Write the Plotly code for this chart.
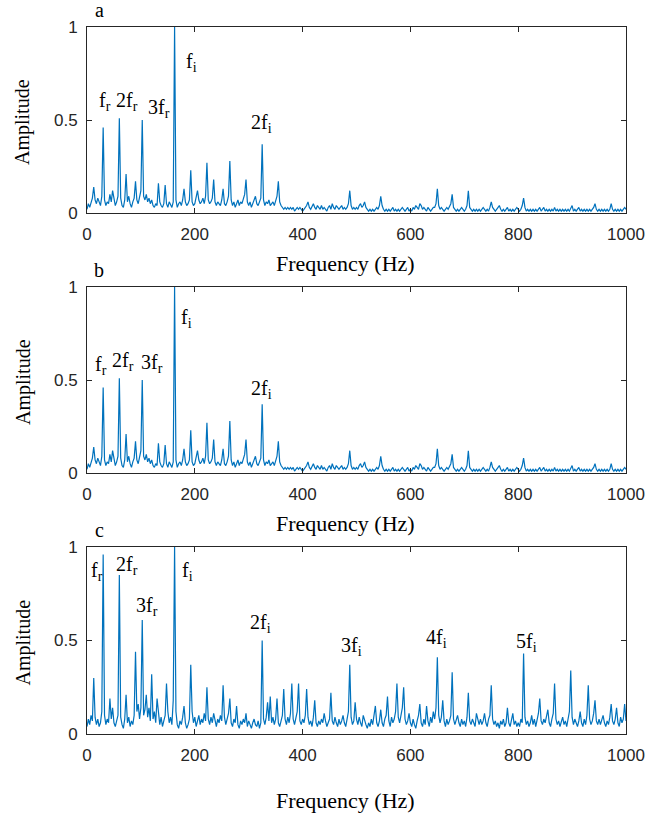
import plotly.graph_objects as go

# Frequency bins (Hz), 2.5 Hz resolution from 0 to 1000 Hz
freq = [2.5 * i for i in range(401)]

# Normalised amplitude spectrum, panels a and b (one row = 50 Hz)
amp_a = [
    0.02, 0.05, 0.03, 0.06, 0.08, 0.14, 0.07, 0.05, 0.08, 0.06, 0.04, 0.09, 0.46, 0.07, 0.04, 0.06, 0.05, 0.10, 0.06, 0.12,
    0.07, 0.04, 0.06, 0.09, 0.51, 0.08, 0.04, 0.03, 0.07, 0.21, 0.06, 0.09, 0.05, 0.03, 0.06, 0.08, 0.17, 0.07, 0.05, 0.08,
    0.12, 0.50, 0.09, 0.07, 0.10, 0.06, 0.08, 0.05, 0.07, 0.04, 0.03, 0.05, 0.04, 0.16, 0.06, 0.04, 0.03, 0.05, 0.15, 0.05,
    0.03, 0.06, 0.04, 0.03, 0.06, 1.00, 0.07, 0.03, 0.05, 0.06, 0.04, 0.07, 0.13, 0.06, 0.04, 0.05, 0.07, 0.23, 0.06, 0.04,
    0.05, 0.08, 0.12, 0.07, 0.05, 0.06, 0.08, 0.05, 0.09, 0.27, 0.07, 0.05, 0.06, 0.08, 0.18, 0.06, 0.04, 0.06, 0.05, 0.04,
    0.07, 0.13, 0.05, 0.04, 0.06, 0.09, 0.28, 0.07, 0.04, 0.06, 0.03, 0.05, 0.07, 0.04, 0.06, 0.05, 0.07, 0.10, 0.18, 0.06,
    0.04, 0.06, 0.03, 0.05, 0.07, 0.09, 0.05, 0.04, 0.06, 0.08, 0.37, 0.07, 0.04, 0.06, 0.05, 0.07, 0.04, 0.05, 0.06, 0.04,
    0.06, 0.09, 0.17, 0.06, 0.04, 0.03, 0.02, 0.03, 0.02, 0.03, 0.02, 0.03, 0.02, 0.03, 0.01, 0.02, 0.03, 0.02, 0.03, 0.02,
    0.01, 0.02, 0.03, 0.04, 0.06, 0.03, 0.02, 0.04, 0.05, 0.03, 0.02, 0.04, 0.03, 0.02, 0.04, 0.02, 0.03, 0.02, 0.01, 0.03,
    0.04, 0.02, 0.05, 0.03, 0.02, 0.04, 0.03, 0.02, 0.03, 0.04, 0.02, 0.03, 0.02, 0.03, 0.05, 0.12, 0.04, 0.02, 0.03, 0.02,
    0.03, 0.02, 0.04, 0.05, 0.03, 0.04, 0.06, 0.03, 0.02, 0.01, 0.02, 0.01, 0.02, 0.01, 0.02, 0.03, 0.02, 0.04, 0.09, 0.04,
    0.02, 0.01, 0.02, 0.01, 0.02, 0.01, 0.02, 0.03, 0.01, 0.02, 0.01, 0.02, 0.01, 0.02, 0.03, 0.02, 0.01, 0.02, 0.03, 0.01,
    0.02, 0.01, 0.03, 0.02, 0.04, 0.03, 0.02, 0.05, 0.04, 0.02, 0.03, 0.02, 0.01, 0.03, 0.02, 0.01, 0.02, 0.03, 0.03, 0.05,
    0.13, 0.04, 0.02, 0.03, 0.02, 0.01, 0.02, 0.03, 0.02, 0.04, 0.05, 0.10, 0.03, 0.02, 0.01, 0.02, 0.01, 0.02, 0.03, 0.02,
    0.01, 0.02, 0.04, 0.12, 0.03, 0.02, 0.01, 0.02, 0.01, 0.02, 0.01, 0.02, 0.01, 0.02, 0.03, 0.02, 0.01, 0.02, 0.01, 0.03,
    0.06, 0.03, 0.02, 0.01, 0.02, 0.03, 0.04, 0.02, 0.01, 0.02, 0.01, 0.02, 0.03, 0.01, 0.02, 0.01, 0.02, 0.01, 0.02, 0.03,
    0.02, 0.01, 0.02, 0.04, 0.08, 0.03, 0.01, 0.02, 0.01, 0.02, 0.01, 0.02, 0.01, 0.02, 0.01, 0.02, 0.03, 0.01, 0.02, 0.03,
    0.01, 0.02, 0.01, 0.02, 0.01, 0.02, 0.01, 0.03, 0.01, 0.02, 0.01, 0.02, 0.01, 0.02, 0.01, 0.02, 0.01, 0.02, 0.01, 0.03,
    0.04, 0.01, 0.02, 0.01, 0.02, 0.03, 0.01, 0.02, 0.01, 0.02, 0.01, 0.02, 0.01, 0.02, 0.01, 0.02, 0.03, 0.05, 0.02, 0.01,
    0.02, 0.01, 0.02, 0.01, 0.02, 0.01, 0.02, 0.01, 0.02, 0.05, 0.02, 0.01, 0.02, 0.01, 0.02, 0.01, 0.02, 0.01, 0.02, 0.03,
    0.02,
]

# Panel b plots the same spectrum
amp_b = amp_a

# Normalised amplitude spectrum, panel c
amp_c = [
    0.04, 0.08, 0.05, 0.10, 0.07, 0.30, 0.09, 0.05, 0.08, 0.04, 0.06, 0.12, 0.96, 0.10, 0.05, 0.08, 0.06, 0.19, 0.08, 0.14,
    0.06, 0.04, 0.07, 0.10, 0.85, 0.09, 0.05, 0.03, 0.08, 0.21, 0.06, 0.09, 0.04, 0.07, 0.05, 0.10, 0.44, 0.12, 0.16, 0.08,
    0.14, 0.61, 0.10, 0.13, 0.21, 0.09, 0.14, 0.07, 0.32, 0.08, 0.12, 0.06, 0.19, 0.10, 0.05, 0.09, 0.04, 0.07, 0.10, 0.27,
    0.12, 0.06, 0.09, 0.05, 0.18, 1.00, 0.12, 0.05, 0.03, 0.07, 0.05, 0.09, 0.15, 0.06, 0.03, 0.05, 0.08, 0.37, 0.12, 0.06,
    0.09, 0.04, 0.07, 0.10, 0.05, 0.08, 0.06, 0.11, 0.07, 0.25, 0.08, 0.05, 0.09, 0.06, 0.11, 0.07, 0.04, 0.08, 0.06, 0.10,
    0.07, 0.26, 0.09, 0.05, 0.08, 0.11, 0.19, 0.06, 0.04, 0.08, 0.06, 0.15, 0.05, 0.03, 0.07, 0.05, 0.08, 0.06, 0.11, 0.04,
    0.07, 0.05, 0.03, 0.06, 0.08, 0.05, 0.04, 0.07, 0.03, 0.06, 0.50, 0.08, 0.05, 0.09, 0.17, 0.07, 0.20, 0.06, 0.09, 0.05,
    0.08, 0.19, 0.06, 0.04, 0.07, 0.10, 0.24, 0.08, 0.05, 0.09, 0.06, 0.11, 0.27, 0.08, 0.05, 0.09, 0.12, 0.27, 0.07, 0.05,
    0.08, 0.06, 0.10, 0.24, 0.09, 0.05, 0.07, 0.04, 0.09, 0.18, 0.06, 0.04, 0.07, 0.05, 0.08, 0.06, 0.11, 0.07, 0.04, 0.06,
    0.08, 0.22, 0.07, 0.05, 0.09, 0.06, 0.04, 0.08, 0.05, 0.07, 0.10, 0.06, 0.04, 0.08, 0.12, 0.37, 0.09, 0.05, 0.07, 0.17,
    0.08, 0.05, 0.09, 0.06, 0.04, 0.10, 0.07, 0.05, 0.03, 0.06, 0.04, 0.08, 0.05, 0.09, 0.15, 0.06, 0.04, 0.07, 0.13, 0.06,
    0.04, 0.08, 0.10, 0.20, 0.07, 0.04, 0.09, 0.06, 0.08, 0.12, 0.27, 0.09, 0.06, 0.10, 0.14, 0.25, 0.08, 0.05, 0.07, 0.11,
    0.06, 0.04, 0.08, 0.05, 0.03, 0.07, 0.10, 0.16, 0.06, 0.04, 0.08, 0.05, 0.15, 0.07, 0.04, 0.09, 0.06, 0.12, 0.08, 0.14,
    0.41, 0.10, 0.06, 0.09, 0.18, 0.07, 0.04, 0.08, 0.05, 0.07, 0.10, 0.33, 0.08, 0.05, 0.07, 0.10, 0.06, 0.04, 0.08, 0.05,
    0.07, 0.04, 0.09, 0.22, 0.07, 0.05, 0.08, 0.06, 0.04, 0.11, 0.07, 0.05, 0.08, 0.05, 0.07, 0.11, 0.06, 0.04, 0.08, 0.10,
    0.26, 0.08, 0.05, 0.07, 0.04, 0.06, 0.03, 0.07, 0.05, 0.08, 0.04, 0.06, 0.14, 0.06, 0.04, 0.08, 0.11, 0.05, 0.07, 0.04,
    0.06, 0.04, 0.08, 0.06, 0.43, 0.09, 0.05, 0.07, 0.04, 0.06, 0.10, 0.05, 0.08, 0.04, 0.07, 0.11, 0.19, 0.07, 0.05, 0.08,
    0.06, 0.09, 0.13, 0.06, 0.04, 0.08, 0.11, 0.27, 0.08, 0.05, 0.07, 0.04, 0.06, 0.09, 0.05, 0.07, 0.04, 0.08, 0.12, 0.34,
    0.09, 0.05, 0.08, 0.06, 0.04, 0.07, 0.12, 0.06, 0.04, 0.08, 0.05, 0.10, 0.26, 0.08, 0.05, 0.07, 0.11, 0.18, 0.07, 0.05,
    0.08, 0.05, 0.07, 0.10, 0.06, 0.04, 0.07, 0.05, 0.09, 0.16, 0.07, 0.05, 0.08, 0.14, 0.06, 0.04, 0.09, 0.06, 0.08, 0.16,
    0.07,
]

# Axis ticks
x_ticks = [0, 200, 400, 600, 800, 1000]
x_ticktext = ["0", "200", "400", "600", "800", "1000"]
y_ticks = [0, 0.5, 1]
y_ticktext = ["0", "0.5", "1"]

panel_letters = ["a", "b", "c"]

# Harmonic labels per panel: (text, frequency, amplitude)
labels_a = [("f<sub>r</sub>", 33, 0.60), ("2f<sub>r</sub>", 74, 0.60), ("3f<sub>r</sub>", 133, 0.56),
            ("f<sub>i</sub>", 193, 0.81), ("2f<sub>i</sub>", 324, 0.48)]
labels_b = [("f<sub>r</sub>", 26, 0.58), ("2f<sub>r</sub>", 66, 0.60), ("3f<sub>r</sub>", 121, 0.59),
            ("f<sub>i</sub>", 185, 0.83), ("2f<sub>i</sub>", 324, 0.45)]
labels_c = [("f<sub>r</sub>", 18, 0.87), ("2f<sub>r</sub>", 75, 0.90), ("3f<sub>r</sub>", 112, 0.68),
            ("f<sub>i</sub>", 187, 0.87), ("2f<sub>i</sub>", 322, 0.59), ("3f<sub>i</sub>", 490, 0.47),
            ("4f<sub>i</sub>", 648, 0.51), ("5f<sub>i</sub>", 815, 0.49)]

W, H = 671, 813
BLUE = "#0072BD"
AXIS = "#262626"
SERIF = "Liberation Serif"
SANS = "Liberation Sans"

# Pixel geometry of the three axes boxes
left_px, right_px = 87, 626
tops_px = [27, 287, 547]
bottoms_px = [213, 473, 734]
xtitle_px = [263, 523, 800]


def fx(px):
    return px / W


def fy(py):
    return 1 - py / H


fig = go.Figure()
annotations = []
series = [amp_a, amp_b, amp_c]
label_sets = [labels_a, labels_b, labels_c]

for i in range(3):
    n = "" if i == 0 else str(i + 1)
    fig.add_trace(go.Scatter(
        x=freq, y=series[i], mode="lines",
        line=dict(color=BLUE, width=1.2),
        xaxis="x" + n, yaxis="y" + n, showlegend=False, hoverinfo="skip",
    ))
    common = dict(
        ticks="inside", ticklen=5, tickwidth=1, tickcolor=AXIS,
        showline=True, linecolor=AXIS, linewidth=1, mirror="ticks",
        showgrid=False, zeroline=False, automargin=False,
        tickfont=dict(family=SANS, size=17, color=AXIS),
    )
    fig.update_layout(**{
        "xaxis" + n: dict(
            domain=[fx(left_px), fx(right_px)], anchor="y" + n,
            range=[0, 1000], tickvals=x_ticks, ticktext=x_ticktext,
            ticklabelstandoff=6, **common),
        "yaxis" + n: dict(
            domain=[fy(bottoms_px[i]), fy(tops_px[i])], anchor="x" + n,
            range=[0, 1], tickvals=y_ticks, ticktext=y_ticktext,
            ticklabelstandoff=5, **common),
    })
    for text, f, a in label_sets[i]:
        annotations.append(dict(
            text=text, x=f, y=a, xref="x" + n, yref="y" + n,
            showarrow=False, xanchor="center", yanchor="middle",
            font=dict(family=SERIF, size=20, color="black"),
        ))
    # panel letter
    annotations.append(dict(
        text=panel_letters[i], x=fx(99), y=fy(tops_px[i] - 17), xref="paper", yref="paper",
        showarrow=False, xanchor="center", yanchor="middle",
        font=dict(family=SERIF, size=20, color="black"),
    ))
    # y axis title
    annotations.append(dict(
        text="Amplitude", x=fx(23), y=fy((tops_px[i] + bottoms_px[i]) / 2 + 2),
        xref="paper", yref="paper", showarrow=False, textangle=-90,
        xanchor="center", yanchor="middle",
        font=dict(family=SERIF, size=20, color="black"),
    ))
    # x axis title
    annotations.append(dict(
        text="Frequency (Hz)", x=fx(345), y=fy(xtitle_px[i]),
        xref="paper", yref="paper", showarrow=False,
        xanchor="center", yanchor="middle",
        font=dict(family=SERIF, size=22, color="black"),
    ))

fig.update_layout(
    width=W, height=H,
    margin=dict(l=0, r=0, t=0, b=0, pad=0, autoexpand=False),
    paper_bgcolor="white", plot_bgcolor="white",
    annotations=annotations,
)

fig.write_html("out.html")
